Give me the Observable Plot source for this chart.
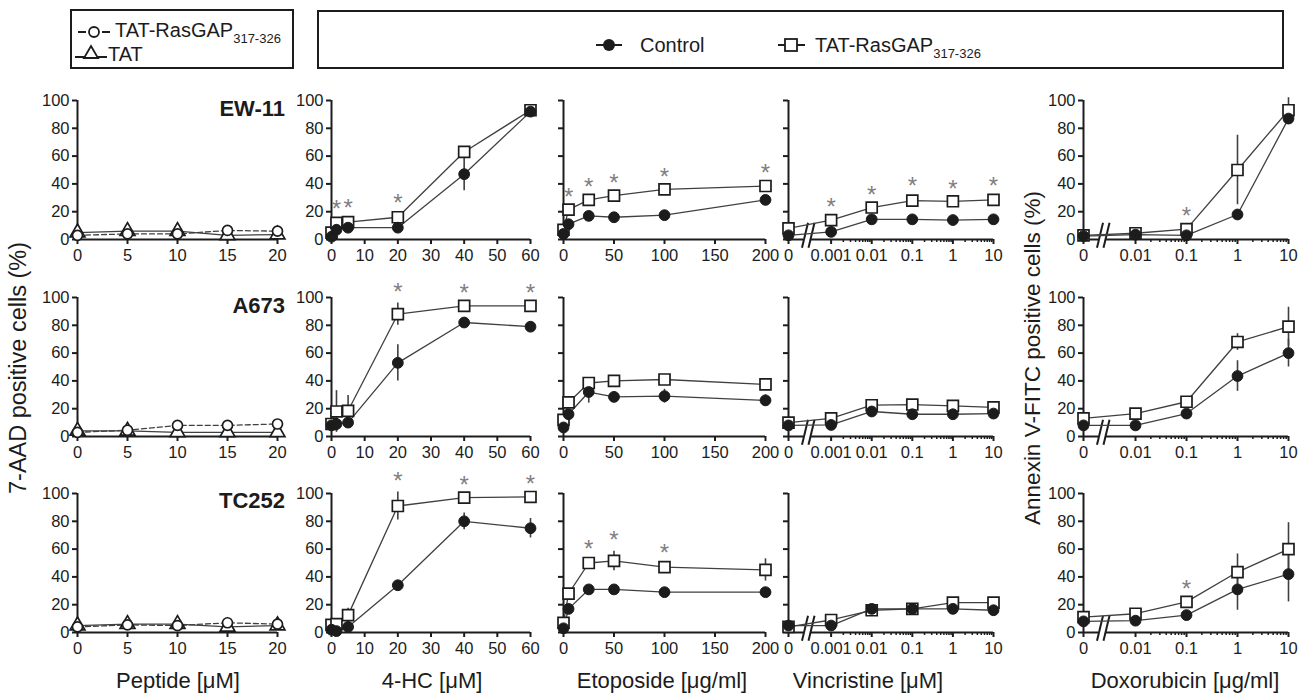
<!DOCTYPE html>
<html><head><meta charset="utf-8">
<script src="https://cdn.jsdelivr.net/npm/d3@7"></script>
<script src="https://cdn.jsdelivr.net/npm/@observablehq/plot@0.6"></script>
<style>
html,body{margin:0;padding:0;background:#fff;}
#root{position:relative;width:1299px;height:696px;overflow:hidden;font-family:"Liberation Sans",Arial,Helvetica,sans-serif;}
</style></head>
<body><div id="root"></div>
<script>
// ---------------- DATA ----------------
const cellLines = ["EW-11", "A673", "TC252"];
const yTicks = [0, 20, 40, 60, 80, 100];

// Peptide alone (7-AAD %)
const pepDose = [0, 5, 10, 15, 20];
const pepTicks = [0, 5, 10, 15, 20];
const pepRasgap = [[3, 4, 4, 6.5, 6], [3, 4.5, 8, 8, 9], [4, 5.5, 5, 7, 6]];
const pepTat = [[5, 6, 6, 3, 3.5], [4, 4, 3, 3, 3], [5, 6, 6, 4, 5]];
const pepTatErr = [[3, 3, 3, 3, 3], [3, 3, 3, 3, 3], [3, 3, 3, 3, 3]];

// 4-HC (uM)
const hcDose = [0, 1.5, 5, 20, 40, 60];
const hcTicks = [0, 10, 20, 30, 40, 50, 60];
const hcCtrl = [[2, 7, 8.5, 8.5, 47, 92], [8, 9, 10, 53, 82, 79], [2, 1, 4, 34, 80, 75]];
const hcCtrlErr = [[1, 1, 1, 1, 12, 2], [2, 2, 1, 13, 2, 2], [1, 1, 1, 2, 6, 7]];
const hcTat = [[5, 12, 12.5, 16, 63, 93], [9, 18, 18.5, 88, 94, 94], [5.5, 6, 12.5, 91, 97, 97.5]];
const hcTatErr = [[1, 2, 2, 2, 3, 3], [2, 15, 11, 8, 1, 1], [1, 1, 5, 10, 1, 1]];
const hcStars = [[1.5, 5, 20], [20, 40, 60], [20, 40, 60]];

// Etoposide (ug/ml)
const etoDose = [0, 5, 25, 50, 100, 200];
const etoTicks = [0, 50, 100, 150, 200];
const etoCtrl = [[4, 11, 17, 16, 17.5, 28.5], [6.5, 16, 32, 28.5, 29, 26], [3, 17, 31, 31, 29, 29]];
const etoCtrlErr = [[1, 1, 1, 1, 1, 1], [1, 3, 8, 2, 5, 4], [1, 2, 2, 2, 2, 2]];
const etoTat = [[7, 21.5, 28.5, 31.5, 36, 38.5], [12, 24.5, 38.5, 40, 41, 37.5], [7, 28, 50, 51.5, 47, 45]];
const etoTatErr = [[1, 1, 1, 1, 1, 1], [1, 3, 2, 2, 3, 3], [1, 2, 2, 7, 2, 8]];
const etoStars = [[5, 25, 50, 100, 200], [], [25, 50, 100]];

// Vincristine (uM)
const vinDose = [0, 0.001, 0.01, 0.1, 1, 10];
const vinTickDose = [0, 0.001, 0.01, 0.1, 1, 10];
const vinTickLabels = ["0", "0.001", "0.01", "0.1", "1", "10"];
const vinCtrl = [[3, 5.5, 14.5, 14.5, 14, 14.5], [8, 8.3, 18, 16, 16, 16.5], [5, 5, 17, 17, 17, 16]];
const vinCtrlErr = [[1, 1, 1, 1, 1, 1], [1, 1, 4, 3, 2, 2], [1, 1, 2, 1, 1, 1]];
const vinTat = [[8, 14, 23, 28, 27.5, 28.5], [10, 13, 22.5, 23, 22, 21], [4, 9, 16, 17, 21.5, 21.5]];
const vinTatErr = [[1, 1, 1, 2, 1, 2], [1, 1, 3, 3, 2, 1], [1, 1, 2, 1, 1, 1]];
const vinStars = [[0.001, 0.01, 0.1, 1, 10], [], []];

// Doxorubicin (ug/ml)
const doxDose = [0, 0.01, 0.1, 1, 10];
const doxTickDose = [0, 0.01, 0.1, 1, 10];
const doxTickLabels = ["0", "0.01", "0.1", "1", "10"];
const doxCtrl = [[2.5, 3.5, 3, 18, 87], [8, 8, 16.5, 43.5, 60], [8, 8.5, 12.5, 31, 42]];
const doxCtrlErr = [[1, 1, 1, 2, 4], [1, 1, 1, 11, 10], [1, 1, 2, 15, 20]];
const doxTat = [[3, 4.5, 7.5, 50, 93], [13, 16.5, 25, 68, 79], [11, 13.5, 22, 43.5, 60]];
const doxTatErr = [[1, 1, 1, 25, 9], [1, 1, 1, 6, 14], [1, 1, 1, 13, 19]];
const doxStars = [[0.1], [], [0.1]];

// ---------------- LAYOUT ----------------
const root = document.getElementById("root");
const FONT = '"Liberation Sans", Arial, Helvetica, sans-serif';
const INK = "#1c1c1c", LINE = "#404040", STAR = "#808080";
const rowTop = [100, 297, 493], plotH = 139;
const colPx = [[77, 277], [331, 530], [563, 765], [788, 993], [1083, 1288]];
const ML = 60, MR = 30, MT = 50, MB = 45;
const TICKFS = 16.5;

function logPos(zero) { return d => d === 0 ? zero : Math.log10(d); }
function minorTicks(e0, e1) {
  const out = [];
  for (let e = e0; e < e1; e++) for (let k = 2; k <= 9; k++) out.push(Math.log10(k) + e);
  return out;
}

function addPanel(c, r, cfg) {
  const [p0, p1] = colPx[c];
  const pw = p1 - p0;
  const [d0, d1] = cfg.domain;
  const inv = px => d0 + (px / pw) * (d1 - d0);
  const pos = cfg.pos || (d => d);
  const marks = [];
  marks.push(Plot.ruleX([d0], {y1: () => 0, y2: () => 100, stroke: INK, strokeWidth: 2}));
  const segs = cfg.brk ? [[d0, inv(15)], [inv(22), d1]] : [[d0, d1]];
  marks.push(Plot.ruleY(segs, {y: () => 0, x1: s => s[0], x2: s => s[1], stroke: INK, strokeWidth: 2}));
  if (cfg.brk) {
    marks.push(Plot.link([16.5, 23], {x1: p => inv(p - 3), x2: p => inv(p + 3), y1: () => -6, y2: () => 12, stroke: INK, strokeWidth: 2}));
  }
  marks.push(Plot.axisY({ticks: yTicks, tickSize: 5, tickPadding: 3, strokeWidth: 2, fontSize: TICKFS, label: null,
    tickFormat: cfg.yLabels ? d => String(d) : () => ""}));
  marks.push(Plot.axisX({ticks: cfg.ticks.map(pos), tickSize: 5, tickPadding: 5, strokeWidth: 2, fontSize: TICKFS, label: null,
    tickFormat: (d, i) => cfg.labels ? cfg.labels[i] : String(d)}));
  if (cfg.minor) marks.push(Plot.axisX({ticks: cfg.minor, tickSize: 3, strokeWidth: 1.5, label: null, tickFormat: () => ""}));

  const series = cfg.series.map(s => ({...s, pts: cfg.dose.map((d, i) => ({dose: d, x: pos(d), y: s.vals[i], e: s.errs ? s.errs[i] : 0}))}));
  for (const s of series) marks.push(Plot.line(s.pts, {x: "x", y: "y", stroke: LINE, strokeWidth: 1.3, strokeDasharray: s.dash ? "5,3" : null}));
  for (const s of series) marks.push(Plot.ruleX(s.pts.filter(p => p.e > 0), {x: "x", y1: p => p.y - p.e, y2: p => p.y + p.e, stroke: LINE, strokeWidth: 1.6}));
  for (const s of series) {
    if (s.kind === "square") marks.push(Plot.dot(s.pts, {x: "x", y: "y", symbol: "square", r: 6.2, fill: "white", stroke: INK, strokeWidth: 1.7}));
    else if (s.kind === "circle") marks.push(Plot.dot(s.pts, {x: "x", y: "y", r: 5.4, fill: INK, stroke: INK, strokeWidth: 1}));
    else if (s.kind === "ocircle") marks.push(Plot.dot(s.pts, {x: "x", y: "y", r: 5, fill: "white", stroke: INK, strokeWidth: 1.7}));
    else if (s.kind === "triangle") marks.push(Plot.dot(s.pts, {x: "x", y: "y", symbol: "triangle", r: 5.5, fill: "white", stroke: INK, strokeWidth: 1.7}));
  }
  if (cfg.stars && cfg.stars.length) {
    const starPts = cfg.stars.map(d => {
      let top = 0;
      for (const s of series) for (const p of s.pts) if (p.dose === d) top = Math.max(top, p.y + p.e);
      return {x: pos(d), y: top};
    });
    marks.push(Plot.text(starPts, {x: "x", y: "y", text: () => "*", dy: -11, fontSize: 24, fill: STAR, fontFamily: FONT}));
  }

  const svg = Plot.plot({
    width: pw + ML + MR, height: plotH + MT + MB,
    marginLeft: ML, marginRight: MR, marginTop: MT, marginBottom: MB,
    x: {domain: cfg.domain}, y: {domain: [0, 100]},
    style: {background: "transparent", overflow: "visible", color: INK, fontFamily: FONT},
    marks
  });
  svg.style.position = "absolute";
  svg.style.left = (p0 - ML) + "px";
  svg.style.top = (rowTop[r] - MT) + "px";
  svg.style.maxWidth = "none";
  root.appendChild(svg);
}

for (let r = 0; r < 3; r++) {
  addPanel(0, r, {domain: [0, 20], ticks: pepTicks, yLabels: true, dose: pepDose,
    series: [
      {kind: "triangle", vals: pepTat[r], errs: pepTatErr[r]},
      {kind: "ocircle", vals: pepRasgap[r], dash: true}
    ]});
  addPanel(1, r, {domain: [0, 60], ticks: hcTicks, yLabels: true, dose: hcDose, stars: hcStars[r],
    series: [
      {kind: "square", vals: hcTat[r], errs: hcTatErr[r]},
      {kind: "circle", vals: hcCtrl[r], errs: hcCtrlErr[r]}
    ]});
  addPanel(2, r, {domain: [0, 200], ticks: etoTicks, yLabels: false, dose: etoDose, stars: etoStars[r],
    series: [
      {kind: "square", vals: etoTat[r], errs: etoTatErr[r]},
      {kind: "circle", vals: etoCtrl[r], errs: etoCtrlErr[r]}
    ]});
  addPanel(3, r, {domain: [-4.05, 1], pos: logPos(-4.05), brk: true, ticks: vinTickDose, labels: vinTickLabels,
    minor: minorTicks(-3, 1), yLabels: false, dose: vinDose, stars: vinStars[r],
    series: [
      {kind: "square", vals: vinTat[r], errs: vinTatErr[r]},
      {kind: "circle", vals: vinCtrl[r], errs: vinCtrlErr[r]}
    ]});
  addPanel(4, r, {domain: [-3.02, 1], pos: logPos(-3.02), brk: true, ticks: doxTickDose, labels: doxTickLabels,
    minor: minorTicks(-2, 1), yLabels: true, dose: doxDose, stars: doxStars[r],
    series: [
      {kind: "square", vals: doxTat[r], errs: doxTatErr[r]},
      {kind: "circle", vals: doxCtrl[r], errs: doxCtrlErr[r]}
    ]});
}

// ---------------- TEXT / LEGENDS ----------------
const ns = "http://www.w3.org/2000/svg";
const ov = document.createElementNS(ns, "svg");
ov.setAttribute("width", 1299); ov.setAttribute("height", 696);
ov.style.position = "absolute"; ov.style.left = "0"; ov.style.top = "0";
ov.style.fontFamily = FONT;
ov.innerHTML = `
<g fill="${INK}">
  <text x="285" y="116" text-anchor="end" font-weight="bold" font-size="22">${cellLines[0]}</text>
  <text x="285" y="313" text-anchor="end" font-weight="bold" font-size="22">${cellLines[1]}</text>
  <text x="285" y="508" text-anchor="end" font-weight="bold" font-size="22">${cellLines[2]}</text>
  <text x="178" y="688" text-anchor="middle" font-size="22">Peptide [μM]</text>
  <text x="432" y="688" text-anchor="middle" font-size="22">4-HC [μM]</text>
  <text x="662" y="688" text-anchor="middle" font-size="22">Etoposide [μg/ml]</text>
  <text x="868" y="688" text-anchor="middle" font-size="22">Vincristine [μM]</text>
  <text x="1185" y="688" text-anchor="middle" font-size="22">Doxorubicin [μg/ml]</text>
  <text transform="translate(26,368) rotate(-90)" text-anchor="middle" font-size="23.5">7-AAD positive cells (%)</text>
  <text transform="translate(1040,358) rotate(-90)" text-anchor="middle" font-size="22.5">Annexin V-FITC positive cells (%)</text>
</g>
<rect x="71" y="10" width="222" height="58" fill="none" stroke="${INK}" stroke-width="2"/>
<path d="M78,32H86M102,32H110" stroke="${INK}" stroke-width="2"/>
<circle cx="94" cy="32" r="5" fill="white" stroke="${INK}" stroke-width="1.8"/>
<text x="115" y="37" font-size="20" fill="${INK}">TAT-RasGAP<tspan font-size="13" dy="6">317-326</tspan></text>
<path d="M75,57H107" stroke="${INK}" stroke-width="2"/>
<path d="M91,46L98,58L84,58Z" fill="white" stroke="${INK}" stroke-width="1.8"/>
<text x="108" y="61" font-size="20" fill="${INK}">TAT</text>
<rect x="318" y="11" width="965" height="57" fill="none" stroke="${INK}" stroke-width="2"/>
<path d="M596,45H622" stroke="${INK}" stroke-width="2"/>
<circle cx="609" cy="45" r="6" fill="${INK}"/>
<text x="640" y="52" font-size="20" fill="${INK}">Control</text>
<path d="M778,45H786M797,45H805" stroke="${INK}" stroke-width="2"/>
<rect x="785" y="39" width="12" height="12" fill="white" stroke="${INK}" stroke-width="1.8"/>
<text x="815" y="52" font-size="20" fill="${INK}">TAT-RasGAP<tspan font-size="13" dy="6">317-326</tspan></text>
`;
root.appendChild(ov);
</script></body></html>
